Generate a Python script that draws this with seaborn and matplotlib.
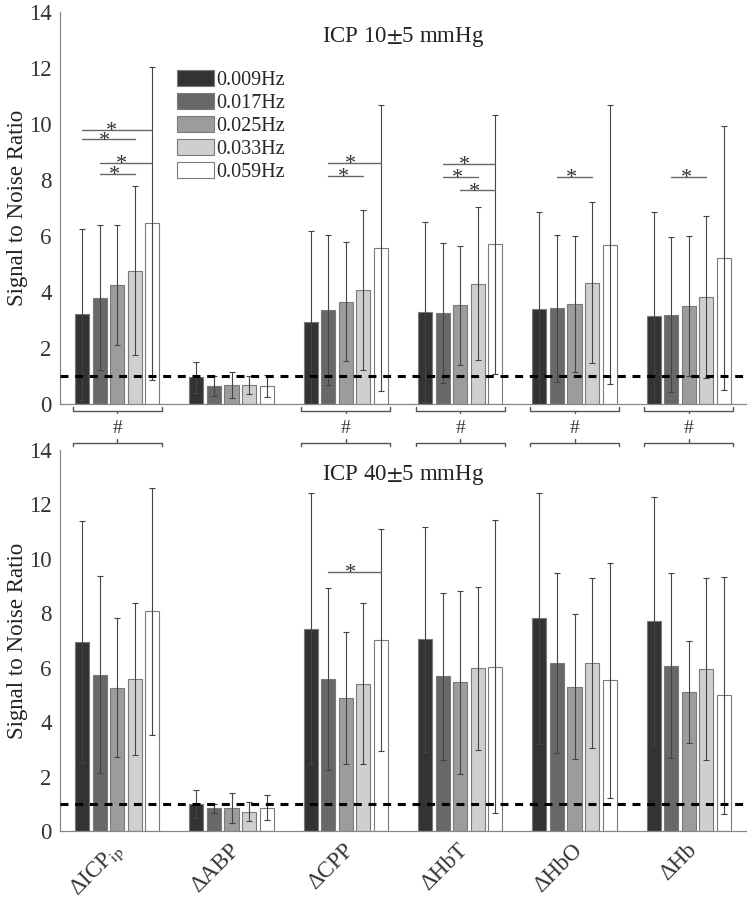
import matplotlib
matplotlib.use("Agg")
import matplotlib.pyplot as plt
import matplotlib.transforms as mtransforms
from matplotlib.container import BarContainer
from matplotlib.patches import Patch
import numpy as np
import pandas as pd
import seaborn as sns

# ---- data ----
variables = ["ΔICP$_{\\mathrm{ip}}$", "ΔABP", "ΔCPP", "ΔHbT", "ΔHbO", "ΔHb"]
freqs = ["0.009Hz", "0.017Hz", "0.025Hz", "0.033Hz", "0.059Hz"]

# ICP 10 +/- 5 mmHg, rows = variables, cols = frequencies
mean_10 = [
    [3.21, 3.80, 4.24, 4.76, 6.45],
    [0.95, 0.65, 0.68, 0.67, 0.64],
    [2.93, 3.35, 3.65, 4.08, 5.58],
    [3.29, 3.24, 3.52, 4.30, 5.70],
    [3.38, 3.42, 3.57, 4.33, 5.69],
    [3.14, 3.19, 3.51, 3.83, 5.21],
]
sd_10 = [
    [3.05, 2.60, 2.14, 3.02, 5.59],
    [0.54, 0.35, 0.47, 0.32, 0.40],
    [3.24, 2.67, 2.12, 2.86, 5.10],
    [3.22, 2.50, 2.13, 2.72, 4.62],
    [3.49, 2.63, 2.42, 2.88, 4.98],
    [3.73, 2.77, 2.50, 2.90, 4.72],
]

# ICP 40 +/- 5 mmHg
mean_40 = [
    [6.95, 5.75, 5.27, 5.59, 8.07],
    [0.98, 0.83, 0.85, 0.71, 0.86],
    [7.44, 5.58, 4.89, 5.41, 7.01],
    [7.04, 5.69, 5.47, 5.98, 6.04],
    [7.81, 6.17, 5.31, 6.17, 5.54],
    [7.72, 6.07, 5.11, 5.96, 4.98],
]
sd_40 = [
    [4.45, 3.62, 2.54, 2.80, 4.55],
    [0.52, 0.18, 0.55, 0.35, 0.46],
    [4.97, 3.35, 2.43, 2.95, 4.07],
    [4.14, 3.07, 3.36, 2.99, 5.37],
    [4.62, 3.32, 2.67, 3.12, 4.31],
    [4.55, 3.40, 1.87, 3.34, 4.37],
]

# significance bars: (variable index, from freq, to freq, height)
sig_10 = [(0, 0, 4, 9.80), (0, 0, 3, 9.45), (0, 1, 4, 8.62), (0, 1, 3, 8.21),
          (2, 1, 4, 8.60), (2, 1, 3, 8.15),
          (3, 1, 4, 8.58), (3, 1, 3, 8.12), (3, 2, 4, 7.63),
          (4, 1, 3, 8.12), (5, 1, 3, 8.12)]
sig_40 = [(2, 1, 4, 9.51)]
hash_groups = [0, 2, 3, 4, 5]

palette = ["#333333", "#686868", "#9c9c9c", "#cfcfcf", "#ffffff"]
edge = "#7a7a7a"
errc = "#444444"

sns.set_theme(style="white")
plt.rcParams["font.family"] = ["Liberation Serif", "DejaVu Serif"]
plt.rcParams["mathtext.fontset"] = "stix"


def to_long(mean):
    rows = []
    for i, v in enumerate(variables):
        for j, f in enumerate(freqs):
            rows.append({"var": v, "freq": f, "snr": mean[i][j]})
    return pd.DataFrame(rows)


def draw_panel(ax, mean, sd, title, sig):
    df = to_long(mean)
    sns.barplot(data=df, x="var", y="snr", hue="freq", order=variables,
                hue_order=freqs, palette=palette, width=0.77, gap=0.2,
                edgecolor=edge, linewidth=0.8, errorbar=None, legend=False,
                ax=ax)
    # error bars from the bar geometry
    bar_conts = [c for c in ax.containers if isinstance(c, BarContainer)]
    centers = np.zeros((len(variables), len(freqs)))
    for j, cont in enumerate(bar_conts):
        for i, bar in enumerate(cont.patches):
            cx = bar.get_x() + bar.get_width() / 2
            centers[i, j] = cx
            ax.errorbar(cx, bar.get_height(), yerr=sd[i][j], fmt="none",
                        ecolor=errc, elinewidth=0.8, capsize=2.3,
                        capthick=0.8, zorder=3)
    ax.axhline(1, color="black", lw=2.2, dashes=(2.6, 2.2), zorder=4)

    for g, a, b, h in sig:
        xm = centers[g, a] + 0.42 * (centers[g, b] - centers[g, a])
        ax.plot([centers[g, a], centers[g, b]], [h, h], color="#666666",
                lw=1.0, zorder=3)
        ax.text(xm, h - 0.22, "*", ha="center", va="baseline", fontsize=16,
                color="#333333")

    ax.set_xlim(-0.5, len(variables) - 0.5)
    ax.set_ylim(0, 14)
    ax.set_yticks(np.arange(0, 15, 2))
    ax.set_xlabel("")
    ax.set_ylabel("Signal to Noise Ratio", fontsize=16.5, labelpad=1,
                  color="#222222")
    ax.tick_params(axis="both", direction="in", length=5, width=0.8,
                   color="#666666", labelsize=16.5, labelcolor="#333333",
                   pad=6)
    ax.tick_params(axis="x", bottom=True, length=6)
    for side in ["top", "right"]:
        ax.spines[side].set_visible(False)
    for side in ["left", "bottom"]:
        ax.spines[side].set_color("#888888")
        ax.spines[side].set_linewidth(0.9)
    ax.text(0.5, 0.935, title, transform=ax.transAxes, ha="center",
            va="center", fontsize=16.5, color="#222222")
    return centers, bar_conts[0].patches[0].get_width()


fig = plt.figure(figsize=(7.53, 9.02), dpi=100)
ax1 = fig.add_axes([0.0797, 0.5521, 0.911, 0.4346])
ax2 = fig.add_axes([0.0797, 0.0787, 0.911, 0.4224])

c1, bwidth = draw_panel(ax1, mean_10, sd_10, "ICP 10$\\pm$5 mmHg", sig_10)
c2, _ = draw_panel(ax2, mean_40, sd_40, "ICP 40$\\pm$5 mmHg", sig_40)

ax1.tick_params(axis="x", labelbottom=False)
# rotated category labels under the lower panel
ax2.set_xticks(range(len(variables)))
ax2.set_xticklabels(variables, rotation=45, ha="right", va="top",
                    fontsize=16.5, color="#333333")
offset = mtransforms.ScaledTranslation(12 / 100, 0, fig.dpi_scale_trans)
for lab in ax2.get_xticklabels():
    lab.set_transform(lab.get_transform() + offset)

# legend
handles = [Patch(facecolor=c, edgecolor=edge, linewidth=0.8) for c in palette]
ax1.legend(handles, freqs, loc="upper left", bbox_to_anchor=(0.1706, 0.853),
           frameon=False, fontsize=14.5, handlelength=1.85, handleheight=0.85,
           handletextpad=0.1, labelspacing=0.15, borderpad=0, borderaxespad=0)

# brackets with '#' between the panels
trans = mtransforms.blended_transform_factory(ax1.transData, ax1.transAxes)
bw = bwidth / 2
for g in hash_groups:
    x0 = c1[g, 0] - bw - 0.02
    x1 = c1[g, -1] + bw + 0.02
    xm = c1[g, 2]
    kw = dict(color="#555555", lw=1.0, transform=trans, clip_on=False)
    ax1.plot([x0, x0, x1, x1], [-0.008, -0.017, -0.017, -0.008], **kw)
    ax1.plot([xm, xm], [-0.017, -0.024], **kw)
    ax1.text(xm, -0.062, "#", transform=trans, ha="center", va="center",
             fontsize=14, color="#333333")
    ax1.plot([x0, x0, x1, x1], [-0.107, -0.099, -0.099, -0.107], **kw)
    ax1.plot([xm, xm], [-0.099, -0.090], **kw)

fig.savefig("out.png", dpi=100)
